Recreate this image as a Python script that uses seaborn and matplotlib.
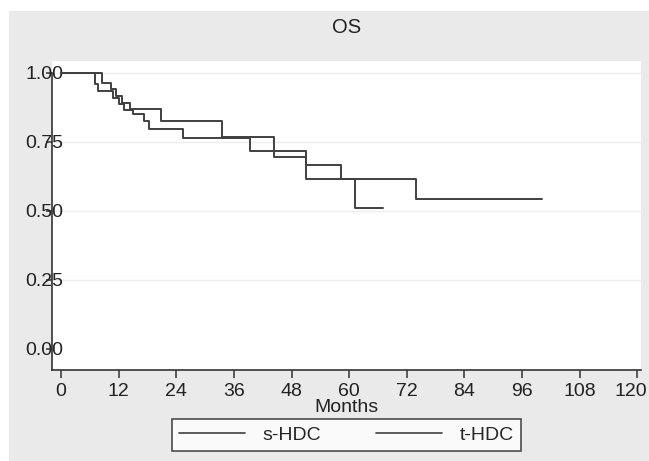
import matplotlib
matplotlib.use("Agg")
import matplotlib.pyplot as plt
import matplotlib.transforms as mtransforms
import seaborn as sns
import pandas as pd
from matplotlib.lines import Line2D
from matplotlib.patches import Rectangle

# ---- data ----
groups = ["s-HDC", "t-HDC"]
time_s = [0, 7.0, 7.7, 10.8, 12.0, 13.2, 15.0, 17.2, 18.4, 25.4, 39.4, 51.1, 61.3, 67.1]
surv_s = [1.0, 0.958, 0.933, 0.908, 0.885, 0.866, 0.850, 0.825, 0.796, 0.764, 0.717, 0.615, 0.509, 0.509]
time_t = [0, 8.6, 10.3, 11.5, 12.6, 14.4, 20.8, 33.5, 44.4, 51.1, 58.3, 74.0, 100.1]
surv_t = [1.0, 0.962, 0.940, 0.915, 0.890, 0.867, 0.825, 0.768, 0.694, 0.666, 0.615, 0.541, 0.541]
x_ticks = [0, 12, 24, 36, 48, 60, 72, 84, 96, 108, 120]
y_ticks = [0.0, 0.25, 0.5, 0.75, 1.0]
y_ticklabels = ["0.00", "0.25", "0.50", "0.75", "1.00"]

df = pd.concat([
    pd.DataFrame({"Months": time_s, "Survival": surv_s, "Group": groups[0]}),
    pd.DataFrame({"Months": time_t, "Survival": surv_t, "Group": groups[1]}),
], ignore_index=True)

sns.set_theme(style="white")
plt.rcParams["font.family"] = ["Liberation Sans", "DejaVu Sans"]
fs = 14

line_color = "#404040"
bg = "#eaeaea"

fig = plt.figure(figsize=(6.49, 4.61), dpi=100)
fig.patch.set_facecolor("white")
fig.patches.append(Rectangle((9 / 649, 0), 1 - 9 / 649, 1 - 11 / 461,
                             transform=fig.transFigure, facecolor=bg,
                             edgecolor="none", zorder=-10))

ax = fig.add_axes([52 / 649, 1 - 370 / 461, (641 - 52) / 649, (370 - 61) / 461])
ax.set_facecolor("white")

sns.lineplot(data=df, x="Months", y="Survival", hue="Group", units="Group",
             estimator=None, palette=[line_color, line_color],
             drawstyle="steps-post", linewidth=1.4, legend=False, ax=ax, sort=True)

ax.set_xlim(-1.9, 120.8)
ax.set_ylim(-0.077, 1.042)
ax.set_xticks(x_ticks)
ax.set_xticklabels([str(v) for v in x_ticks])
ax.set_yticks(y_ticks)
ax.set_yticklabels(y_ticklabels)

for yv in y_ticks[1:]:
    ax.axhline(yv, color="#eeeeee", lw=1.0, zorder=0)

for s in ["top", "right"]:
    ax.spines[s].set_visible(False)
for s in ["left", "bottom"]:
    ax.spines[s].set_color("#333333")
    ax.spines[s].set_linewidth(1.2)
ax.spines["left"].set_bounds(-0.077, 1.0)

ax.tick_params(axis="x", direction="out", length=6, width=1.1, color="#333333",
               pad=3, labelsize=fs, labelcolor="#222222", bottom=True)
ax.tick_params(axis="y", direction="out", length=4, width=1.1, color="#333333",
               pad=-12, labelsize=fs, labelcolor="#222222", left=True)

# keep the last x label ("120") inside the figure, as in the reference
last = ax.get_xticklabels()[-1]
last.set_transform(last.get_transform() + mtransforms.ScaledTranslation(-6 / 100, 0, fig.dpi_scale_trans))

ax.set_xlabel("Months", fontsize=fs, color="#222222", labelpad=0)
ax.set_ylabel("")
ax.set_title("OS", fontsize=fs + 0.5, color="#222222", pad=20)

handles = [Line2D([0], [0], color=line_color, lw=1.2) for _ in groups]
leg = fig.legend(handles, groups, loc="center", bbox_to_anchor=(346.5 / 649, 1 - 435 / 461),
                 ncol=2, frameon=True, fancybox=False, fontsize=fs,
                 handlelength=3.4, columnspacing=2.8, handletextpad=0.9,
                 borderpad=0.35)
leg.get_frame().set_edgecolor("#222222")
leg.get_frame().set_linewidth(1.2)
leg.get_frame().set_facecolor("white")

fig.savefig("out.png", dpi=100, facecolor=fig.get_facecolor())
